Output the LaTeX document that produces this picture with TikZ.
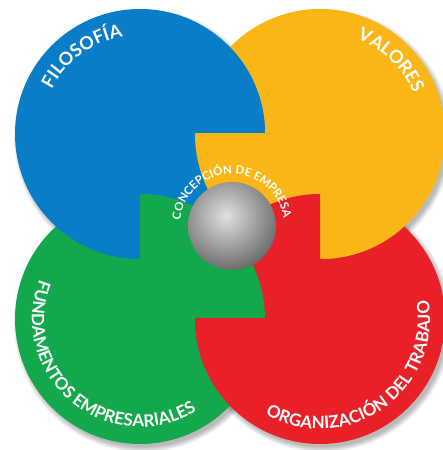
\documentclass[tikz,border=0pt]{standalone}
\usepackage{fontspec}
\setmainfont{Lato}
\usepackage{tikz}
\usetikzlibrary{positioning}
\usetikzlibrary{decorations.text}
\usetikzlibrary{calc}
\definecolor{colB}{RGB}{10,125,200}
\definecolor{colY}{RGB}{250,182,22}
\definecolor{colG}{RGB}{20,168,76}
\definecolor{colR}{RGB}{234,32,40}
\tikzstyle{discshadow}=[fill=black,opacity=0.05]
\tikzstyle{arctext}=[decorate,decoration={text along path,text align=center,text color=white}]

\begin{document}
\begin{tikzpicture}[x=1pt,y=1pt]
    \useasboundingbox (0,0) rectangle (443,450);

    \coordinate (B) at (140,316);
    \coordinate (Y) at (320,316);
    \coordinate (G) at (140,131);
    \coordinate (R) at (320,131);
    \coordinate (ball) at (232,224);

    % soft shadow under the discs
    \foreach \name in {B,Y,G,R}
        \foreach \k in {0,...,5}
            \fill[discshadow] ($(\name)+(3,-4)$) circle ({124pt+\k pt});

    \foreach \name in {G,R,Y,B}
        \fill[fill=col\name] (\name) circle (125pt);

    % interlocking: which disc lies on top in each half of a lens
    \foreach \over/\under/\xa/\ya/\xb/\yb in {B/Y/0/316/443/450, Y/B/0/0/443/316, B/G/0/0/140/450, G/B/140/0/443/450, G/R/0/131/443/450, R/G/0/0/443/131, Y/R/320/0/443/450, R/Y/0/0/320/450}
    {
        \begin{scope}
            \clip (\under) circle (126.5pt);
            \clip (\xa,\ya) rectangle (\xb,\yb);
            \fill[fill=col\over] (\over) circle (125pt);
        \end{scope}
    }

    \begin{scope}
        \clip (ball) circle (44pt);
        \shade[inner color=black!12,outer color=black!62] ($(ball)+(-6,10)$) circle (60pt);
    \end{scope}

    \path[arctext,decoration={text={|\fontsize{18}{18}\selectfont\bfseries|FILOSOFÍA}}] (B) ++(175:99pt) arc (175:78:99pt);
    \path[arctext,decoration={text={|\fontsize{18}{18}\selectfont\bfseries|VALORES}}] (Y) ++(92:102pt) arc (92:0:102pt);
    \path[arctext,decoration={text={|\fontsize{17}{17}\selectfont\bfseries|FUNDAMENTOS EMPRESARIALES}}] (G) ++(130:108pt) arc (130:330:108pt);
    \path[arctext,decoration={text={|\fontsize{17}{17}\selectfont\bfseries|ORGANIZACIÓN DEL TRABAJO}}] (R) ++(215:110pt) arc (215:395:110pt);
    \path[arctext,decoration={text={|\fontsize{11.5}{11.5}\selectfont\bfseries|CONCEPCIÓN DE EMPRESA}}] (ball) ++(185:52pt) arc (185:-3:52pt);
\end{tikzpicture}
\end{document}
